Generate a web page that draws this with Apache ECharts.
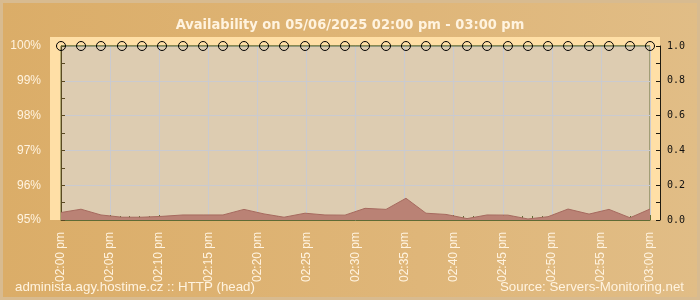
<!DOCTYPE html>
<html>
<head>
<meta charset="utf-8">
<script src="https://cdn.jsdelivr.net/npm/echarts@6/dist/echarts.min.js"></script>
<style>
html,body{margin:0;padding:0;background:#D8BB90;}
#c{width:700px;height:300px;}
</style>
</head>
<body>
<div id="c"></div>
<script>
// --- data ---
const titleText = 'Availability on 05/06/2025 02:00 pm - 03:00 pm';
const xTickLabels = ['02:00 pm','02:05 pm','02:10 pm','02:15 pm','02:20 pm','02:25 pm','02:30 pm','02:35 pm','02:40 pm','02:45 pm','02:50 pm','02:55 pm','03:00 pm'];
// minutes after 02:00 pm of each measurement
const sampleMinutes = [0, 2.04, 4.07, 6.21, 8.25, 10.29, 12.43, 14.47, 16.5, 18.64, 20.68, 22.72, 24.86, 26.89, 28.93, 30.97, 33.11, 35.14, 37.18, 39.22, 41.36, 43.4, 45.53, 47.57, 49.61, 51.65, 53.79, 55.82, 57.96, 60];
// availability in %
const availability = [100,100,100,100,100,100,100,100,100,100,100,100,100,100,100,100,100,100,100,100,100,100,100,100,100,100,100,100,100,100];
// response time (right axis)
const responseTime = [0.043, 0.062, 0.029, 0.016, 0.016, 0.021, 0.029, 0.029, 0.029, 0.061, 0.035, 0.016, 0.039, 0.029, 0.028, 0.067, 0.061, 0.125, 0.039, 0.032, 0.008, 0.029, 0.028, 0.006, 0.019, 0.063, 0.034, 0.061, 0.013, 0.063];
const leftFooter = 'administa.agy.hostime.cz :: HTTP (head)';
const rightFooter = 'Source: Servers-Monitoring.net';

const chart = echarts.init(document.getElementById('c'), null, {renderer:'canvas'});
const cream = '#FFF3DF';
const option = {
  animation: false,
  backgroundColor: 'transparent',
  title: {
    text: titleText, left: 'center', top: 13,
    textStyle: {color: cream, fontSize: 14.5, fontWeight: 'bold', fontFamily: 'DejaVu Sans Condensed'}
  },
  graphic: [
    {type:'rect', z:-10, silent:true, shape:{x:3,y:3,width:694,height:294},
     style:{fill:new echarts.graphic.LinearGradient(0,0,1,0,[{offset:0,color:'#DBAD68'},{offset:0.6,color:'#DFB679'},{offset:1,color:'#E1BD86'}])}},
    {type:'rect', z:-5, silent:true, shape:{x:50,y:37,width:610,height:183}, style:{fill:'#FFDFA6'}},
    {type:'text', left:15, top:281, style:{text:leftFooter, fill:cream, font:'13.3px "Liberation Sans"'}},
    {type:'text', right:16, top:281, style:{text:rightFooter, fill:cream, font:'13.3px "Liberation Sans"'}}
  ],
  grid: {left:61, right:50, top:46, bottom:80, show:true, backgroundColor:'#DDCCB1', borderColor:'#66703A', borderWidth:1},
  xAxis: {
    type:'value', min:0, max:60, interval:5,
    axisLine:{show:true, lineStyle:{color:'#5F6B35'}},
    axisTick:{show:true, inside:true, length:5, lineStyle:{color:'#5F6B35'}},
    minorTick:{show:true, splitNumber:5, length:4, lineStyle:{color:'#5F6B35'}},
    splitLine:{show:true, lineStyle:{color:'#CACACF', width:1}},
    axisLabel:{rotate:90, margin:12, color:cream, fontSize:12, fontFamily:'Liberation Sans',
      formatter: v => xTickLabels[Math.round(v/5)]}
  },
  yAxis: [
    {type:'value', min:95, max:100, interval:1, offset:11, position:'left',
     axisLine:{show:true, lineStyle:{color:'#5A4A22'}},
     axisTick:{show:true, inside:true, length:4, lineStyle:{color:'#5A4A22'}},
     minorTick:{show:true, splitNumber:2, length:4, lineStyle:{color:'#5A4A22'}},
     splitLine:{show:true, lineStyle:{color:'#CACACF', width:1}},
     axisLabel:{margin:9, color:cream, fontSize:12, fontFamily:'Liberation Sans', formatter: v => v + '%'}
    },
    {type:'value', min:0, max:1, interval:0.2, offset:10, position:'right',
     axisLine:{show:true, lineStyle:{color:'#1E1A10'}},
     axisTick:{show:true, inside:true, length:4, lineStyle:{color:'#1E1A10'}},
     minorTick:{show:true, splitNumber:2, length:4, lineStyle:{color:'#1E1A10'}},
     splitLine:{show:false},
     axisLabel:{margin:7, color:'#111', fontSize:10, fontFamily:'DejaVu Sans Mono', formatter: v => v.toFixed(1)}
    }
  ],
  series: [
    {type:'line', yAxisIndex:1, data: sampleMinutes.map((m,i)=>[m, responseTime[i]]),
     symbol:'none', lineStyle:{color:'#A66A5F', width:1}, areaStyle:{color:'#BA8275', opacity:1}, z:2},
    {type:'line', yAxisIndex:0, data: sampleMinutes.map((m,i)=>[m, availability[i]]), clip:false,
     symbol:'circle', symbolSize:9, lineStyle:{color:'#5F6B35', width:1},
     itemStyle:{color:'rgba(0,0,0,0)', borderColor:'#000', borderWidth:1}, z:5}
  ]
};
chart.setOption(option);
</script>
</body>
</html>
